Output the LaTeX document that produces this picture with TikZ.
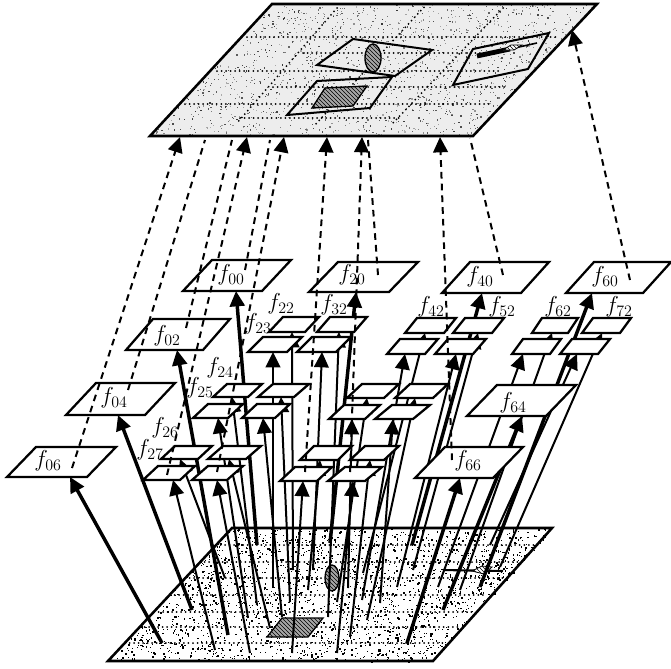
\documentclass[tikz,border=0pt]{standalone}
\usetikzlibrary{arrows.meta,patterns}
\pgfdeclarelayer{planes}
\pgfdeclarelayer{arrowlayer}
\pgfdeclarelayer{toplayer}
\pgfsetlayers{planes,arrowlayer,main,toplayer}
\tikzset{
  planeedge/.style={line width=1.9pt,line join=miter},
  boxst/.style={draw=black,fill=white,line width=1.7pt,line join=miter},
  ar/.style={line width=1.5pt,-{Triangle[length=11.5pt,width=11pt]}},
  arb/.style={line width=2.6pt,-{Triangle[length=11.5pt,width=11pt]}},
  dsh/.style={line width=1.5pt,dash pattern=on 5pt off 3.8pt},
  dsha/.style={dsh,-{Triangle[length=11.5pt,width=11pt]}},
  griddot/.style={line width=1.5pt,line cap=round,dash pattern=on 0pt off 3.4pt},
  lab/.style={inner sep=0pt,font=\fontsize{17}{18}\selectfont},
  quadst/.style={draw=black,line width=1.5pt},
  hatchst/.style={draw=black,line width=1pt,pattern=north west lines,pattern color=black},
}
% name, bottom-left x, bottom y, width, height, skew, head x
\newcommand\pbox[7]{%
  \draw[boxst] (#2,#3) -- ++(#4,0) -- ++(#6,-#5) -- ++(-#4,0) -- cycle;
  \coordinate (#1) at (#7,#3);
}
\begin{document}
\begin{tikzpicture}[x=0.75pt,y=-0.75pt]
\useasboundingbox (0,0) rectangle (671,668);
\pgfmathsetseed{4711}

% ---------- planes ----------
\begin{pgfonlayer}{planes}
  \fill[white] (0,0) rectangle (671,668);
  % top plane
  \fill[black!7] (272,4) -- (597,4) -- (473,136) -- (150,136) -- cycle;
  \foreach \i in {1,...,1500}{
    \pgfmathsetmacro\u{rnd}\pgfmathsetmacro\v{rnd}
    \pgfmathsetmacro\g{int(30+50*rnd)}
    \fill[black!\g] ({150+\u*324+\v*123},{136-\v*132}) rectangle ++(1.2,1.2);
  }
  \foreach \y/\a/\b in {37/247/557,53/303/480,71/217/500,87/273/507,104/185/493,118/240/403}
    \draw[griddot] (\a,\y) -- (\b,\y);
  \draw[griddot] (337,8) -- (237,123);
  \draw[griddot] (427,4) -- (313,127);
  \draw[griddot] (503,8) -- (393,123);
  \draw[planeedge] (272,4) -- (597,4) -- (473,136) -- (150,136) -- cycle;
  % objects of the top plane
  \draw[quadst] (353,39) -- (432,50) -- (395,76) -- (317,65) -- cycle;
  \draw[quadst] (317,81) -- (392,77) -- (370,108) -- (287,115) -- cycle;
  \draw[quadst] (473,49) -- (549,33) -- (528,69) -- (453,85) -- cycle;
  \fill[black!35] (373,58) ellipse [x radius=8,y radius=14];
  \draw[hatchst] (373,58) ellipse [x radius=8,y radius=14];
  \fill[black!35] (325,88) -- (367,86) -- (353,106) -- (312,108) -- cycle;
  \draw[hatchst] (325,88) -- (367,86) -- (353,106) -- (312,108) -- cycle;
  \draw[line width=3.6pt] (477,56) -- (510,49);
  \draw[line width=1.2pt] (510,49) -- (537,43);
  \fill[white] (503,50) -- (511,45) -- (522,45) -- (514,50) -- cycle;
  \draw[hatchst,line width=.6pt] (503,50) -- (511,45) -- (522,45) -- (514,50) -- cycle;

  % bottom plane
  \fill[white] (232,528) -- (552,528) -- (433,661) -- (108,661) -- cycle;
  \foreach \i in {1,...,2200}{
    \pgfmathsetmacro\u{rnd}\pgfmathsetmacro\v{rnd}\pgfmathsetmacro\s{1+1.2*rnd*rnd}
    \fill[black] ({108+\u*325+\v*122},{661-\v*133}) rectangle ++(\s,\s);
  }
  \foreach \y/\a/\b in {545/216/534,562/200/518,578/185/503,595/170/487,612/154/472,627/140/458,643/125/443}
    \draw[griddot] (\a,\y) -- (\b,\y);
  \draw[planeedge] (232,528) -- (552,528) -- (433,661) -- (108,661) -- cycle;
  \fill[black!35] (282,618) -- (323,618) -- (308,637) -- (267,637) -- cycle;
  \draw[hatchst] (282,618) -- (323,618) -- (308,637) -- (267,637) -- cycle;
  \fill[black!35] (332,578) ellipse [x radius=7,y radius=13];
  \draw[hatchst] (332,578) ellipse [x radius=7,y radius=13];
  \draw[line width=1.6pt] (443,570) -- (503,571);
  \fill[white] (472,571) -- (482,566) -- (492,567) -- (484,574) -- cycle;
  \draw[hatchst,line width=.6pt] (472,571) -- (482,566) -- (492,567) -- (484,574) -- cycle;
\end{pgfonlayer}

% ---------- parallelogram boxes ----------
\pbox{f00}{183}{291}{79}{31}{29}{236}
\pbox{f02}{126}{350}{77}{31}{27}{177}
\pbox{f04}{66}{415}{79}{32}{30}{118}
\pbox{f06}{7}{477}{80}{30}{29}{70}
\pbox{f20}{309}{292}{80}{30}{29}{356}
\pbox{f40}{442}{293}{79}{31}{28}{482}
\pbox{f60}{566}{293}{77}{31}{28}{592}
\pbox{f22}{269}{332}{36}{15}{14}{292}
\pbox{f32}{317}{332}{37}{15}{13}{339}
\pbox{b23}{248}{352}{39}{15}{15}{273}
\pbox{b33}{297}{352}{39}{15}{15}{322}
\pbox{f42}{405}{333}{39}{15}{12}{425}
\pbox{f52}{453}{333}{39}{15}{12}{478}
\pbox{b43}{387}{354}{38}{15}{13}{405}
\pbox{b53}{435}{354}{38}{15}{13}{456}
\pbox{f62}{532}{333}{36}{15}{10}{552}
\pbox{f72}{582}{333}{38}{15}{11}{602}
\pbox{b63}{512}{354}{38}{15}{11}{523}
\pbox{b73}{560}{354}{38}{15}{12}{577}
\pbox{f24}{213}{397}{35}{13}{14}{232}
\pbox{b34}{258}{397}{36}{13}{15}{281}
\pbox{f25}{193}{418}{35}{14}{15}{218}
\pbox{b35}{242}{418}{33}{14}{15}{263}
\pbox{m1}{347}{398}{37}{14}{15}{367}
\pbox{m2}{395}{398}{38}{14}{15}{415}
\pbox{m3}{329}{419}{36}{14}{15}{352}
\pbox{m4}{375}{419}{38}{14}{17}{393}
\pbox{f64}{467}{416}{79}{31}{30}{522}
\pbox{f26}{161}{459}{37}{13}{14}{180}
\pbox{b36}{208}{459}{38}{13}{15}{229}
\pbox{f27}{143}{480}{37}{14}{15}{173}
\pbox{b37}{192}{480}{35}{14}{16}{217}
\pbox{m5}{300}{460}{38}{14}{14}{320}
\pbox{m6}{350}{460}{34}{14}{15}{370}
\pbox{m7}{280}{481}{37}{14}{15}{303}
\pbox{m8}{328}{481}{37}{14}{17}{353}
\pbox{f66}{415}{478}{78}{31}{30}{460}

% ---------- feet on the lower plane ----------
\foreach \n/\x/\y in {
  pf00/257/545,pf02/228/635,pf04/192/610,pf06/162/643,pf20/330/543,pf40/412/545,
  pf60/480/587,pf64/443/610,pf66/407/643,pf22/293/570,pb23/273/588,pf32/328/617,
  pb33/313/570,pf24/257/605,pb34/290/602,pf25/248/618,pb35/282/617,pf26/225/578,
  pb36/270/628,pf27/215/650,pb37/250/653,pm1/337/602,pm2/367/620,pm3/348/588,
  pm4/380/603,pm5/308/590,pm6/350/637,pm7/292/653,pm8/337/653,pf42/363/573,
  pb43/362/600,pf52/413/570,pb53/397/587,pf62/460/590,pb63/438/587,pf72/500/567,
  pb73/490/545}
  \coordinate (\n) at (\x,\y);

% ---------- solid connectors ----------
\begin{pgfonlayer}{arrowlayer}
  \foreach \n in {00,02,04,06,20,40,60,64,66}
    \draw[arb] (pf\n) -- (f\n);
  \foreach \n in {f22,b23,f32,b33,f24,b34,f25,b35,f26,b36,f27,b37,m1,m2,m3,m4,m5,m6,m7,m8,f42,b43,f52,b53,f62,b63,f72,b73}
    \draw[ar] (p\n) -- (\n);
\end{pgfonlayer}

% ---------- labels ----------
\node[lab] (l00) at (231,275) {$f_{00}$};
\node[lab] (l02) at (167,336) {$f_{02}$};
\node[lab] (l04) at (114,398) {$f_{04}$};
\node[lab] (l06) at (48,461) {$f_{06}$};
\node[lab] (l20) at (352,275) {$f_{20}$};
\node[lab] (l40) at (480,277) {$f_{40}$};
\node[lab] (l60) at (605,277) {$f_{60}$};
\node[lab] (l64) at (513,403) {$f_{64}$};
\node[lab] (l66) at (468,461) {$f_{66}$};
\node[lab] (l22) at (281,304) {$f_{22}$};
\node[lab] (l32) at (334,305) {$f_{32}$};
\node[lab] (l23) at (258,324) {$f_{23}$};
\node[lab] (l24) at (220,368) {$f_{24}$};
\node[lab] (l25) at (200,388) {$f_{25}$};
\node[lab] (l26) at (165,428) {$f_{26}$};
\node[lab] (l27) at (150,450) {$f_{27}$};
\node[lab] (l42) at (431,307) {$f_{42}$};
\node[lab] (l52) at (502,307) {$f_{52}$};
\node[lab] (l62) at (558,307) {$f_{62}$};
\node[lab] (l72) at (619,307) {$f_{72}$};

% ---------- dashed projections ----------
\foreach \n/\x/\y in {
  s1/72/468,t1/180/137,s2/128/390,t2/205/140,s3/186/328,t3/232/140,
  s4/167/475,t4/247/137,s5/245/270,t5/270/140,s6/217/472,t6/284/137,
  s7/305/472,t7/327/137,s8/350/472,t8/362/137,s9/378/275,t9/368/140,
  s10/452/460,t10/440/137,s11/503/275,t11/470/138,s12/630/280,t12/572/30}
  \coordinate (\n) at (\x,\y);
\begin{pgfonlayer}{toplayer}
  \foreach \n in {1,4,6,7,8,10,12}
    \draw[dsha] (s\n) -- (t\n);
  \foreach \n in {2,3,5,9,11}
    \draw[dsh] (s\n) -- (t\n);
\end{pgfonlayer}
\end{tikzpicture}
\end{document}
